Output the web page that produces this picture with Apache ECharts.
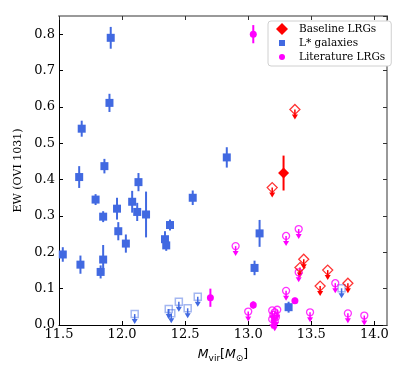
<!DOCTYPE html>
<html>
<head>
<meta charset="utf-8">
<script src="https://cdn.jsdelivr.net/npm/echarts@6/dist/echarts.min.js"></script>
<style>
html, body { margin: 0; padding: 0; background: #fff; }
#main { width: 407px; height: 378px; }
</style>
</head>
<body>
<div id="main"></div>
<script>
// L* galaxies, detections: [log Mvir, EW, error]
var lstarDet = [
    [11.91, 0.790, 0.030], [11.90, 0.611, 0.025], [11.68, 0.540, 0.022],
    [12.83, 0.461, 0.028], [11.86, 0.437, 0.020], [11.66, 0.407, 0.030],
    [12.13, 0.393, 0.025], [11.79, 0.345, 0.015], [12.08, 0.339, 0.030],
    [11.96, 0.320, 0.030], [12.12, 0.311, 0.025], [12.19, 0.304, 0.063],
    [11.85, 0.298, 0.015], [12.56, 0.350, 0.020], [12.38, 0.275, 0.015],
    [11.97, 0.258, 0.025], [12.34, 0.236, 0.022], [12.03, 0.224, 0.025],
    [12.35, 0.219, 0.015], [11.53, 0.194, 0.020], [11.85, 0.180, 0.040],
    [11.67, 0.166, 0.025], [11.83, 0.146, 0.018], [13.09, 0.252, 0.037],
    [13.05, 0.157, 0.020], [13.32, 0.049, 0.015]
];
// L* galaxies, upper limits: [log Mvir, EW]
var lstarLim = [
    [12.10, 0.030], [12.37, 0.044], [12.39, 0.032], [12.45, 0.064],
    [12.52, 0.046], [12.60, 0.078], [13.74, 0.101]
];
// baseline LRGs
var baseDet = [[13.28, 0.418, 0.048]];
var baseLim = [
    [13.37, 0.593], [13.19, 0.378], [13.44, 0.181], [13.41, 0.158],
    [13.63, 0.151], [13.57, 0.107], [13.79, 0.115]
];
// literature LRGs
var litDet = [
    [13.04, 0.800, 0.025], [12.70, 0.075, 0.025], [13.04, 0.055, 0.010],
    [13.37, 0.067, 0.008]
];
var litLim = [
    [12.90, 0.217], [13.30, 0.245], [13.40, 0.264], [13.40, 0.145],
    [13.69, 0.115], [13.30, 0.094], [13.00, 0.037], [13.19, 0.040],
    [13.21, 0.035], [13.23, 0.042], [13.20, 0.028], [13.22, 0.022],
    [13.19, 0.016], [13.21, 0.010], [13.49, 0.035], [13.79, 0.032],
    [13.92, 0.026]
];

var BLUE = '#4169e1';
var RED = '#ff0000';
var MAGENTA = '#ff00ff';
var SERIF = 'DejaVu Serif';

function errRender(color) {
    return function (params, api) {
        var x = api.value(0), y = api.value(1), e = api.value(2);
        var lo = api.coord([x, y - e]);
        var hi = api.coord([x, y + e]);
        return {
            type: 'line',
            shape: { x1: lo[0], y1: lo[1], x2: hi[0], y2: hi[1] },
            style: { stroke: color, lineWidth: 2 }
        };
    };
}

function arrowRender(color) {
    return function (params, api) {
        var p = api.coord([api.value(0), api.value(1)]);
        return {
            type: 'group',
            children: [
                { type: 'line', shape: { x1: p[0], y1: p[1], x2: p[0], y2: p[1] + 6 },
                  style: { stroke: color, lineWidth: 1.5 } },
                { type: 'polygon', shape: { points: [[p[0] - 3, p[1] + 5], [p[0] + 3, p[1] + 5], [p[0], p[1] + 10]] },
                  style: { fill: color } }
            ]
        };
    };
}

function errSeries(name, data, color) {
    return { name: name, type: 'custom', data: data, encode: { x: 0, y: 1 },
             renderItem: errRender(color), silent: true, z: 2 };
}
function arrowSeries(name, data, color) {
    return { name: name, type: 'custom', data: data, encode: { x: 0, y: 1 },
             renderItem: arrowRender(color), silent: true, z: 2 };
}

var myChart = echarts.init(document.getElementById('main'));

var option = {
    animation: false,
    backgroundColor: '#fff',
    grid: { left: 59, right: 20, top: 16, bottom: 53 },
    legend: {
        data: [
            { name: 'Baseline LRGs', icon: 'path://M0 0 M20 12 M8 0 L14 6 L8 12 L2 6 Z' },
            { name: 'L* galaxies', icon: 'path://M0 0 M20 12 M5 3 L11 3 L11 9 L5 9 Z' },
            { name: 'Literature LRGs', icon: 'path://M0 0 M20 12 M8 3 A3 3 0 1 1 8 9 A3 3 0 1 1 8 3 Z' }
        ],
        orient: 'vertical',
        left: 268,
        top: 21,
        itemWidth: 20,
        itemHeight: 12,
        itemGap: 2,
        padding: [2, 6, 3, 6],
        borderColor: '#d0d0d0',
        borderWidth: 1,
        borderRadius: 3,
        backgroundColor: '#fff',
        textStyle: { fontFamily: SERIF, fontSize: 10.5, color: '#000' }
    },
    xAxis: [{
        type: 'value',
        position: 'bottom',
        min: 11.5,
        max: 14.1,
        interval: 0.5,
        name: '{it|M}{sub|vir}{n|[}{it|M}{sub|⊙}{n|]}',
        nameLocation: 'middle',
        nameGap: 21,
        nameTextStyle: {
            rich: {
                it: { fontFamily: 'DejaVu Sans', fontStyle: 'italic', fontSize: 12.5, color: '#000' },
                n: { fontFamily: 'DejaVu Sans', fontSize: 12.5, color: '#000' },
                sub: { fontFamily: 'DejaVu Sans', fontSize: 9, color: '#000', padding: [8, 0, 0, 0] }
            }
        },
        axisLine: { onZero: false, lineStyle: { color: '#000', width: 1 } },
        axisTick: { inside: true, length: 4, lineStyle: { color: '#000' } },
        axisLabel: {
            fontFamily: SERIF, fontSize: 13, color: '#000', margin: 3, showMaxLabel: false,
            formatter: function (v) { return v.toFixed(1); }
        },
        splitLine: { show: false }
    }, {
        type: 'value',
        position: 'top',
        min: 11.5,
        max: 14.1,
        interval: 0.5,
        axisLine: { onZero: false, lineStyle: { color: '#999', width: 2 } },
        axisTick: { inside: true, length: 4, lineStyle: { color: '#333' } },
        axisLabel: { show: false },
        splitLine: { show: false }
    }],
    yAxis: [{
        type: 'value',
        position: 'left',
        min: 0,
        max: 0.85,
        interval: 0.1,
        name: 'EW (OVI 1031)',
        nameLocation: 'middle',
        nameRotate: 90,
        nameGap: 35,
        nameTextStyle: { fontFamily: SERIF, fontSize: 11, color: '#000' },
        axisLine: { onZero: false, lineStyle: { color: '#000', width: 1 } },
        axisTick: { inside: true, length: 4, lineStyle: { color: '#000' } },
        axisLabel: {
            fontFamily: SERIF, fontSize: 13, color: '#000', margin: 4, showMaxLabel: false,
            formatter: function (v) { return v.toFixed(1); }
        },
        splitLine: { show: false }
    }, {
        type: 'value',
        position: 'right',
        min: 0,
        max: 0.85,
        interval: 0.1,
        axisLine: { onZero: false, lineStyle: { color: '#999', width: 2 } },
        axisTick: { inside: true, length: 4, lineStyle: { color: '#333' } },
        axisLabel: { show: false },
        splitLine: { show: false }
    }],
    series: [
        errSeries('lstarErr', lstarDet, BLUE),
        arrowSeries('lstarArrow', lstarLim, BLUE),
        errSeries('litErr', litDet, MAGENTA),
        arrowSeries('litArrow', litLim, MAGENTA),
        errSeries('baseErr', baseDet, RED),
        arrowSeries('baseArrow', baseLim, RED),
        {
            name: 'L* galaxies', type: 'scatter', symbol: 'rect', symbolSize: 8, z: 3,
            data: lstarDet, encode: { x: 0, y: 1 },
            itemStyle: { color: BLUE, opacity: 1 }
        },
        {
            name: 'lstarLimit', type: 'scatter', symbol: 'rect', symbolSize: 7, z: 3,
            data: lstarLim,
            itemStyle: { color: 'transparent', borderColor: 'rgba(65,105,225,0.6)', borderWidth: 1.5 }
        },
        {
            name: 'Literature LRGs', type: 'scatter', symbol: 'circle', symbolSize: 7, z: 3,
            data: litDet, encode: { x: 0, y: 1 },
            itemStyle: { color: MAGENTA, opacity: 1 }
        },
        {
            name: 'litLimit', type: 'scatter', symbol: 'circle', symbolSize: 7, z: 3,
            data: litLim,
            itemStyle: { color: 'transparent', borderColor: MAGENTA, borderWidth: 1.3 }
        },
        {
            name: 'Baseline LRGs', type: 'scatter', symbol: 'diamond', symbolSize: 11, z: 4,
            data: baseDet, encode: { x: 0, y: 1 },
            itemStyle: { color: RED, opacity: 1 }
        },
        {
            name: 'baseLimit', type: 'scatter', symbol: 'diamond', symbolSize: 10, z: 4,
            data: baseLim,
            itemStyle: { color: 'transparent', borderColor: RED, borderWidth: 1.3 }
        }
    ]
};

myChart.setOption(option);
</script>
</body>
</html>
